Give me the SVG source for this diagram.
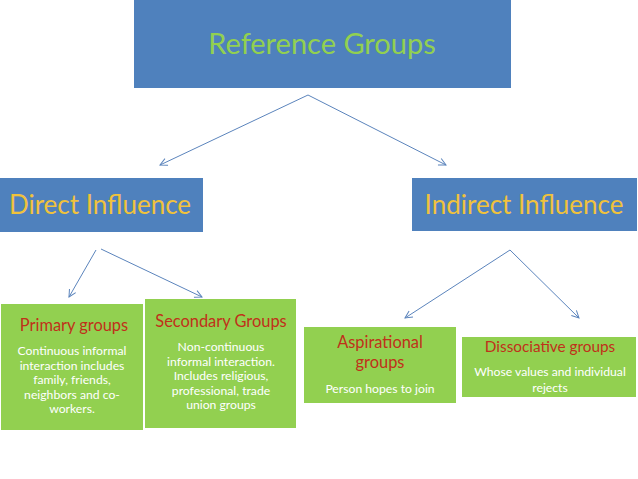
<svg xmlns="http://www.w3.org/2000/svg" width="638" height="479" viewBox="0 0 638 479">
<defs>
<style>
.blue{fill:#4f81bd}
.green{fill:#92d050}
text{font-family:Lato,"Liberation Sans",sans-serif;text-anchor:middle}
.t1{fill:#92d050;font-size:29px}
.t2{fill:#f0c23c;font-size:26px}
.ttl{fill:#c0311a;font-size:16.4px}
.ttl2{fill:#c0311a;font-size:15.3px}
.body{fill:#ffffff;font-size:12.2px}
.conn line{stroke:#5b84bc;stroke-width:1;fill:none;marker-end:url(#arr)}
</style>
<marker id="arr" viewBox="0 0 10 10" refX="9" refY="5" markerWidth="9" markerHeight="9" orient="auto" markerUnits="userSpaceOnUse">
<path d="M1,1 L9,5 L1,9" fill="none" stroke="#5b84bc" stroke-width="1.1"/>
</marker>
</defs>
<rect width="638" height="479" fill="#ffffff"/>
<g id="reference-groups">
<rect class="blue" x="134" y="0" width="377" height="88"/>
<text class="t1" x="322" y="54">Reference Groups</text>
</g>
<g id="direct-influence">
<rect class="blue" x="0" y="178" width="203" height="54"/>
<text class="t2" x="100" y="214">Direct Influence</text>
</g>
<g id="indirect-influence">
<rect class="blue" x="412" y="178" width="225" height="53"/>
<text class="t2" x="524" y="214">Indirect Influence</text>
</g>
<g id="primary-groups">
<rect class="green" x="1" y="304" width="142" height="126"/>
<text class="ttl" x="74" y="331">Primary groups</text>
<text class="body" x="72" y="355">Continuous informal</text>
<text class="body" x="72" y="369.6">interaction includes</text>
<text class="body" x="72" y="384.2">family, friends,</text>
<text class="body" x="72" y="398.8">neighbors and co-</text>
<text class="body" x="72" y="413.4">workers.</text>
</g>
<g id="secondary-groups">
<rect class="green" x="145" y="299" width="151" height="129"/>
<text class="ttl" x="221" y="327">Secondary Groups</text>
<text class="body" x="221" y="351">Non-continuous</text>
<text class="body" x="221" y="365.6">informal interaction.</text>
<text class="body" x="221" y="380.2">Includes religious,</text>
<text class="body" x="221" y="394.8">professional, trade</text>
<text class="body" x="221" y="409.4">union groups</text>
</g>
<g id="aspirational-groups">
<rect class="green" x="304" y="327" width="152" height="76"/>
<text class="ttl" x="380" y="348">Aspirational</text>
<text class="ttl" x="380" y="368">groups</text>
<text class="body" x="380" y="393">Person hopes to join</text>
</g>
<g id="dissociative-groups">
<rect class="green" x="462" y="337" width="174" height="60"/>
<text class="ttl2" x="550" y="352">Dissociative groups</text>
<text class="body" x="550" y="376">Whose values and individual</text>
<text class="body" x="550" y="392">rejects</text>
</g>
<g id="connectors" class="conn">
<line x1="308" y1="95" x2="160" y2="165"/>
<line x1="308" y1="95" x2="446" y2="165"/>
<line x1="96" y1="250" x2="69" y2="297"/>
<line x1="101" y1="249" x2="202" y2="297"/>
<line x1="510" y1="250" x2="405" y2="318"/>
<line x1="510" y1="250" x2="579" y2="318"/>
</g>
</svg>
